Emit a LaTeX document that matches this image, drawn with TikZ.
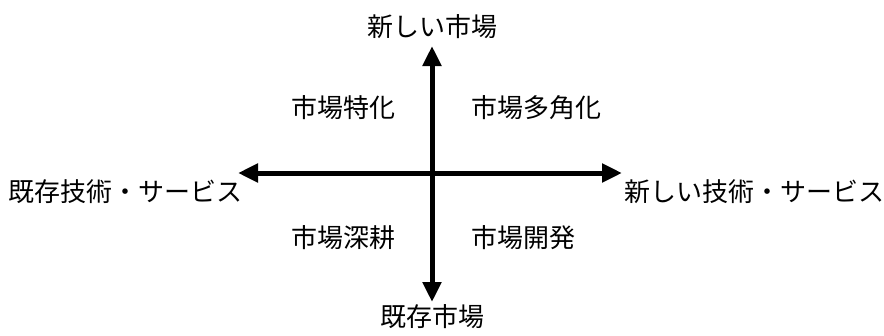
\documentclass[tikz,border=0pt]{standalone}
\usepackage{fontspec}
\setmainfont{Noto Sans CJK JP}
\usetikzlibrary{arrows.meta}
\tikzset{
  lbl/.style={font=\fontsize{26}{30}\selectfont, inner sep=0pt},
  axis/.style={line width=5pt, -{Triangle[length=20pt,width=18pt]}}
}
\begin{document}
\begin{tikzpicture}[x=1pt,y=-1pt]
\useasboundingbox (0,0) rectangle (884,335);
\coordinate (c) at (432,173);
\coordinate (t) at (432,46);
\coordinate (b) at (432,302);
\coordinate (l) at (238,173);
\coordinate (r) at (622,173);
\draw[axis] (c) -- (t);
\draw[axis] (c) -- (b);
\draw[axis] (c) -- (l);
\draw[axis] (c) -- (r);
\node[lbl] (top) at (432,27) {新しい市場};
\node[lbl] (bot) at (432,317) {既存市場};
\node[lbl, anchor=west] (left) at (8,192) {既存技術・サービス};
\node[lbl, anchor=west] (right) at (624,192) {新しい技術・サービス};
\node[lbl] (q1) at (343,108) {市場特化};
\node[lbl, anchor=west] (q2) at (471,108) {市場多角化};
\node[lbl] (q3) at (343,238) {市場深耕};
\node[lbl, anchor=west] (q4) at (471,238) {市場開発};
\end{tikzpicture}
\end{document}
